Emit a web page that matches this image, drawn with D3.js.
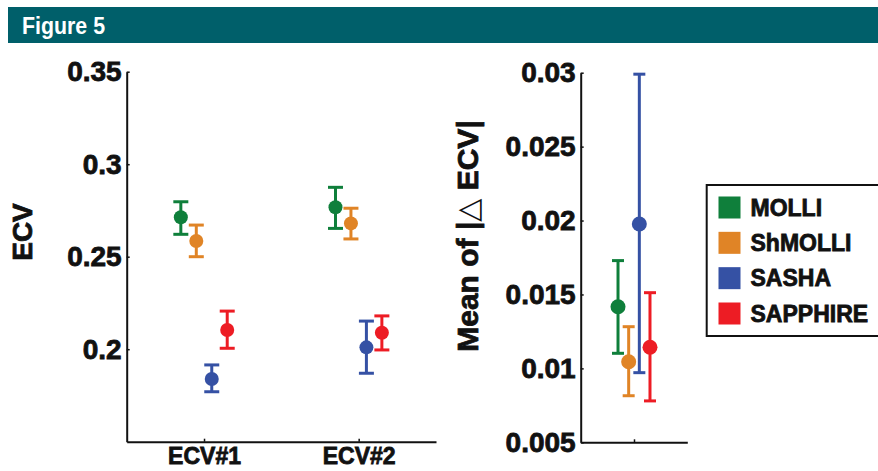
<!DOCTYPE html>
<html>
<head>
<meta charset="utf-8">
<script src="https://cdn.jsdelivr.net/npm/d3@7"></script>
<style>
  body { margin: 0; background: #fff; }
  text { font-family: "Liberation Sans", Arial, sans-serif; font-weight: bold; }
  .heavy { stroke: #111; stroke-width: 0.8px; }
</style>
</head>
<body>
<div id="chart"></div>
<script>
var svgWidth = 878;
var svgHeight = 471;

// data
var categories = ["ECV#1", "ECV#2"];
var methods = ["MOLLI", "ShMOLLI", "SASHA", "SAPPHIRE"];
var colors = ["#0f7f3b", "#e08426", "#3551a4", "#ed1c24"];

// ECV per method, one value per category
var ecvMean = [[0.2713, 0.2767], [0.2585, 0.2680], [0.1839, 0.2010], [0.2104, 0.2089]];
var ecvLow  = [[0.2621, 0.2653], [0.2500, 0.2596], [0.1770, 0.1870], [0.2005, 0.1996]];
var ecvHigh = [[0.2797, 0.2875], [0.2671, 0.2762], [0.1915, 0.2152], [0.2206, 0.2180]];
var ecvTicks = [0.2, 0.25, 0.3, 0.35];

// mean of |delta ECV| per method
var deltaMean = [0.01417, 0.01045, 0.01977, 0.01143];
var deltaLow  = [0.01102, 0.00815, 0.00971, 0.00780];
var deltaHigh = [0.01729, 0.01282, 0.02990, 0.01512];
var deltaTicks = [0.005, 0.01, 0.015, 0.02, 0.025, 0.03];

var svg = d3.select("#chart")
    .append("svg")
    .attr("width", svgWidth)
    .attr("height", svgHeight);

//Header band
svg.append("rect")
    .attr("x", 8).attr("y", 7)
    .attr("width", svgWidth - 8).attr("height", 36)
    .attr("fill", "#005f6a");

svg.append("text")
    .attr("x", 22).attr("y", 34)
    .attr("fill", "#fff")
    .attr("font-size", "23px")
    .attr("textLength", 83)
    .attr("lengthAdjust", "spacingAndGlyphs")
    .text("Figure 5");

var fmt = d3.format("~g");

function styleAxis(g) {
    g.select(".domain").attr("stroke", "#111").attr("stroke-width", 2);
    g.selectAll(".tick line").attr("stroke", "#111").attr("stroke-width", 1.5);
    g.selectAll(".tick text").attr("fill", "#111")
        .attr("class", "heavy")
        .attr("font-family", "Liberation Sans, Arial");
}

//Left panel: ECV
var x1 = d3.scaleLinear().domain([0.5, 2.5]).range([126.7, 436]);
var y1 = d3.scaleLinear().domain([0.15, 0.35]).range([441.7, 71.7]);

svg.append("g")
    .attr("transform", "translate(0,441.7)")
    .call(d3.axisBottom(x1).tickValues([1, 2]).tickSize(-3).tickSizeOuter(0).tickPadding(6)
        .tickFormat(d => categories[d - 1]))
    .call(styleAxis)
    .selectAll(".tick text").attr("font-size", "23px");

svg.append("g")
    .attr("transform", "translate(126.7,0)")
    .call(d3.axisLeft(y1).tickValues(ecvTicks).tickSize(-3).tickSizeOuter(0).tickPadding(5).tickFormat(fmt))
    .call(styleAxis)
    .selectAll(".tick text").attr("font-size", "28px");

svg.append("text")
    .attr("class", "heavy")
    .attr("transform", "translate(32,232) rotate(-90)")
    .attr("text-anchor", "middle")
    .attr("font-size", "28px")
    .attr("fill", "#111")
    .text("ECV");

var ecvPoints = [];
methods.forEach(function(m, i) {
    categories.forEach(function(c, j) {
        ecvPoints.push({ i: i, x: j + 1 + (i - 1.5) * 0.1, mean: ecvMean[i][j], lo: ecvLow[i][j], hi: ecvHigh[i][j] });
    });
});

function drawErrorBars(data, xs, ys, cap, r) {
    var g = svg.append("g").selectAll("g")
        .data(data)
        .enter()
        .append("g")
        .attr("stroke", d => colors[d.i])
        .attr("fill", d => colors[d.i]);
    g.append("line")
        .attr("x1", d => xs(d.x)).attr("x2", d => xs(d.x))
        .attr("y1", d => ys(d.lo)).attr("y2", d => ys(d.hi))
        .attr("stroke-width", 3);
    g.append("line")
        .attr("x1", d => xs(d.x) - cap).attr("x2", d => xs(d.x) + cap)
        .attr("y1", d => ys(d.lo)).attr("y2", d => ys(d.lo))
        .attr("stroke-width", 3);
    g.append("line")
        .attr("x1", d => xs(d.x) - cap).attr("x2", d => xs(d.x) + cap)
        .attr("y1", d => ys(d.hi)).attr("y2", d => ys(d.hi))
        .attr("stroke-width", 3);
    g.append("circle")
        .attr("cx", d => xs(d.x))
        .attr("cy", d => ys(d.mean))
        .attr("r", r)
        .attr("stroke", "none");
}

drawErrorBars(ecvPoints, x1, y1, 7.5, 7);

//Right panel: mean of |delta ECV|
var x2 = d3.scaleLinear().domain([0.5, 1.5]).range([580.7, 687.3]);
var y2 = d3.scaleLinear().domain([0.005, 0.03]).range([442.3, 72.7]);

svg.append("g")
    .attr("transform", "translate(0,442.3)")
    .call(d3.axisBottom(x2).tickValues([1]).tickSize(-3).tickSizeOuter(0).tickFormat(""))
    .call(styleAxis);

svg.append("g")
    .attr("transform", "translate(580.7,0)")
    .call(d3.axisLeft(y2).tickValues(deltaTicks).tickSize(-3).tickSizeOuter(0).tickPadding(5).tickFormat(fmt))
    .call(styleAxis)
    .selectAll(".tick text").attr("font-size", "28px");

var yLab = svg.append("text")
    .attr("class", "heavy")
    .attr("transform", "translate(478,236) rotate(-90)")
    .attr("text-anchor", "middle")
    .attr("font-size", "30px")
    .attr("fill", "#111");
yLab.append("tspan").text("Mean of |");
yLab.append("tspan").attr("font-weight", "normal").attr("font-family", "DejaVu Sans")
    .attr("stroke-width", 0).text("\u25B3");
yLab.append("tspan").text(" ECV|");

var deltaPoints = methods.map(function(m, i) {
    return { i: i, x: 1 + (i - 1.5) * 0.1, mean: deltaMean[i], lo: deltaLow[i], hi: deltaHigh[i] };
});

drawErrorBars(deltaPoints, x2, y2, 6, 7.5);

//Legend
svg.append("rect")
    .attr("x", 706.7).attr("y", 185)
    .attr("width", 190).attr("height", 151)
    .attr("fill", "#fff")
    .attr("stroke", "#111")
    .attr("stroke-width", 2);

var legendY = d3.scalePoint().domain(methods).range([207.5, 313.5]);

var legend = svg.append("g").selectAll("g")
    .data(methods)
    .enter()
    .append("g")
    .attr("transform", d => `translate(718.5, ${legendY(d)})`);

legend.append("rect")
    .attr("x", 0).attr("y", -11)
    .attr("width", 22).attr("height", 22)
    .attr("fill", (d, i) => colors[i]);

legend.append("text")
    .attr("class", "heavy")
    .attr("x", 32).attr("y", 8)
    .attr("font-size", "23px")
    .attr("fill", "#111")
    .text(d => d);
</script>
</body>
</html>
